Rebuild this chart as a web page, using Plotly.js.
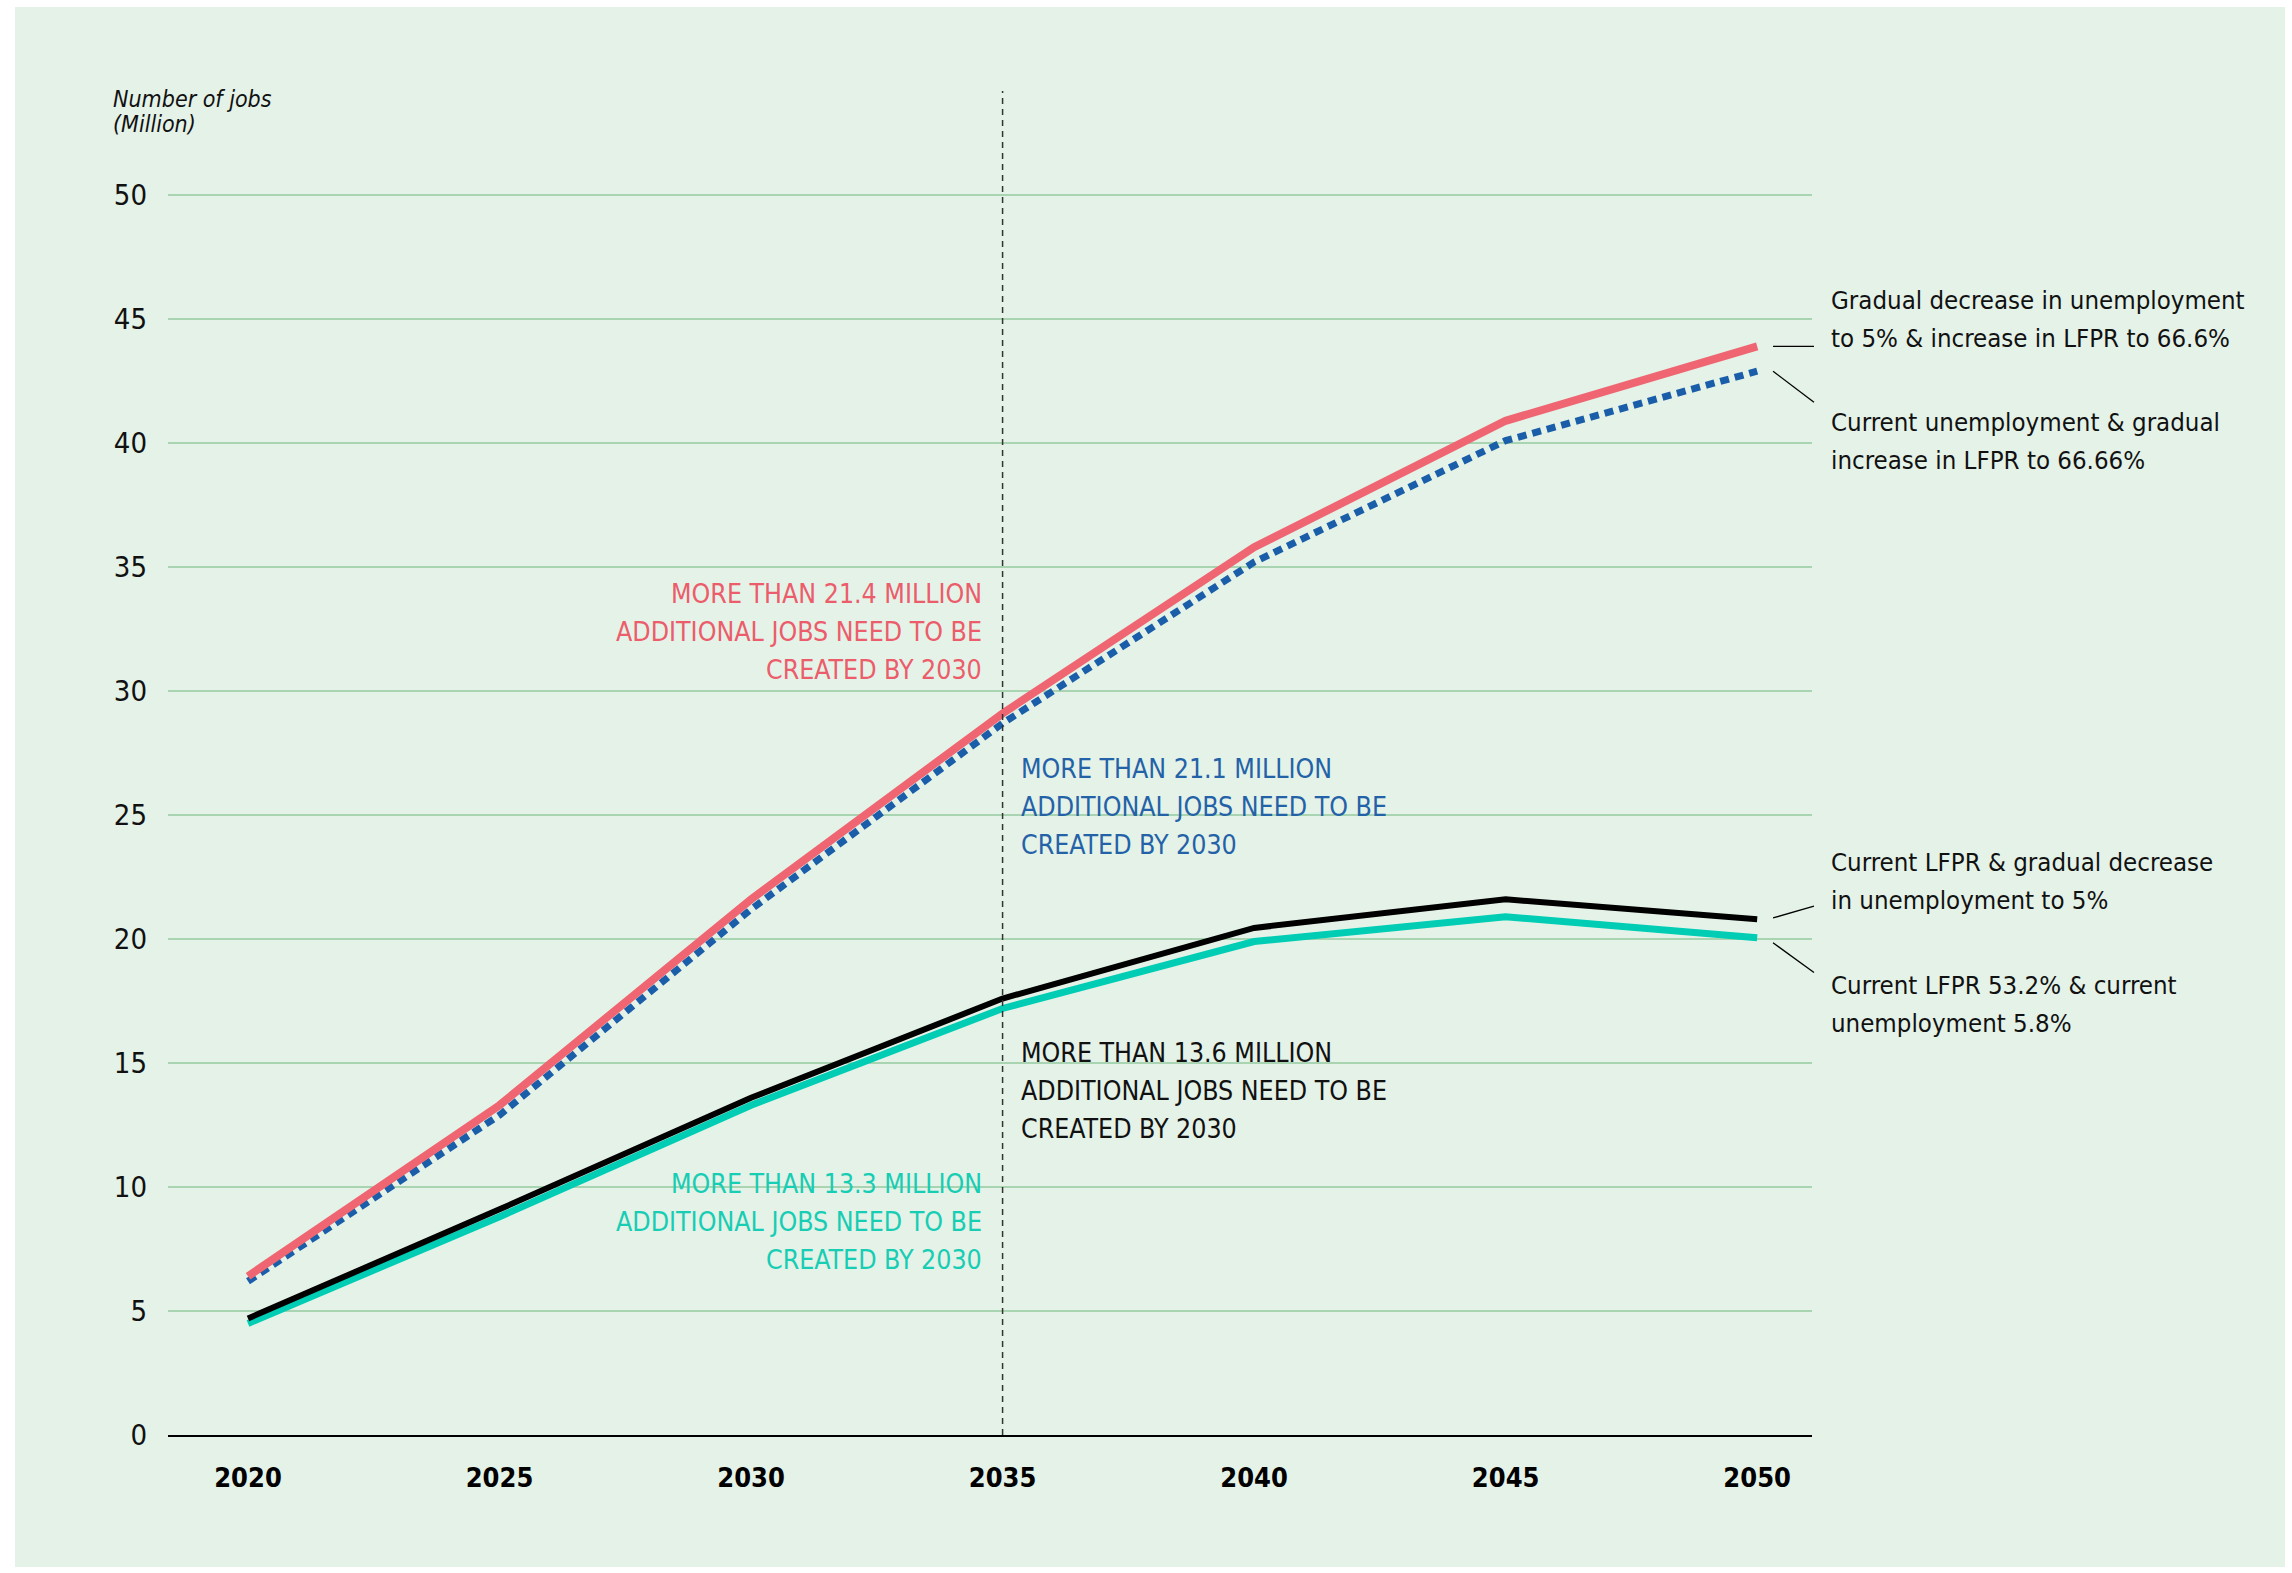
<!DOCTYPE html>
<html>
<head>
<meta charset="utf-8">
<script src="https://cdn.plot.ly/plotly-3.0.1.min.js"></script>
<style>
  html, body { margin: 0; padding: 0; background: #ffffff; width: 2292px; height: 1573px; overflow: hidden; }
  #chart { position: absolute; left: 15px; top: 7px; width: 2270px; height: 1560px; }
</style>
</head>
<body>
<div id="chart"></div>
<script>
// ---- Data ----
const years = [2020, 2025, 2030, 2035, 2040, 2045, 2050];
const gradualUnempLfpr = [6.4, 13.3, 21.6, 29.1, 35.8, 40.9, 43.9];      // red
const currentUnempLfpr = [6.2, 12.9, 21.2, 28.7, 35.2, 40.1, 42.9];      // blue dotted
const currentLfprGradUnemp = [4.7, 9.1, 13.6, 17.6, 20.45, 21.6, 20.8];  // black
const currentLfprCurrUnemp = [4.5, 8.8, 13.3, 17.2, 19.9, 20.9, 20.05];  // teal

const yTicks = [0, 5, 10, 15, 20, 25, 30, 35, 40, 45, 50];
const xTicks = [2020, 2025, 2030, 2035, 2040, 2045, 2050];
const markerYear = 2035;

const seriesNames = [
  ["Gradual decrease in unemployment", "to 5% & increase in LFPR to 66.6%"],
  ["Current unemployment & gradual", "increase in LFPR to 66.66%"],
  ["Current LFPR & gradual decrease", "in unemployment to 5%"],
  ["Current LFPR 53.2% & current", "unemployment 5.8%"]
];
const calloutTexts = [
  ["MORE THAN 21.4 MILLION", "ADDITIONAL JOBS NEED TO BE", "CREATED BY 2030"],
  ["MORE THAN 21.1 MILLION", "ADDITIONAL JOBS NEED TO BE", "CREATED BY 2030"],
  ["MORE THAN 13.6 MILLION", "ADDITIONAL JOBS NEED TO BE", "CREATED BY 2030"],
  ["MORE THAN 13.3 MILLION", "ADDITIONAL JOBS NEED TO BE", "CREATED BY 2030"]
];
const yTitleLines = ["Number of jobs", "(Million)"];

// ---- Style ----
const FONT = "DejaVu Sans Condensed, Liberation Sans Narrow, sans-serif";
const RED = "#ef6672", BLUE = "#1a5ea9", BLACK = "#000000", TEAL = "#00cdb4";
const RED_T = "#ec5d6b", BLUE_T = "#2462a8", TEAL_T = "#17cdb3";
const BG = "#e4f2e8", GRID = "#a9d4b1";

const traces = [
  { x: years, y: currentLfprCurrUnemp, mode: "lines", line: { color: TEAL, width: 7 }, name: "teal" },
  { x: years, y: currentLfprGradUnemp, mode: "lines", line: { color: BLACK, width: 6 }, name: "black" },
  { x: years, y: currentUnempLfpr, mode: "lines", line: { color: BLUE, width: 7, dash: "9px,6px" }, name: "blue" },
  { x: years, y: gradualUnempLfpr, mode: "lines", line: { color: RED, width: 8 }, name: "red" }
];

const last = a => a[a.length - 1];
const LX0 = 0.9763, LX1 = 1.0012;
const shapes = [
  { type: "line", xref: "x", yref: "paper", x0: markerYear, x1: markerYear, y0: 0, y1: 1,
    line: { color: "#333333", width: 1.5, dash: "6px,5px" } },
  { type: "line", xref: "paper", yref: "y", x0: LX0, x1: LX1, y0: last(gradualUnempLfpr), y1: last(gradualUnempLfpr),
    line: { color: "#000", width: 1.3 } },
  { type: "line", xref: "paper", yref: "y", x0: LX0, x1: LX1, y0: last(currentUnempLfpr), y1: last(currentUnempLfpr) - 1.25,
    line: { color: "#000", width: 1.3 } },
  { type: "line", xref: "paper", yref: "y", x0: LX0, x1: LX1, y0: last(currentLfprGradUnemp) + 0.05, y1: last(currentLfprGradUnemp) + 0.53,
    line: { color: "#000", width: 1.3 } },
  { type: "line", xref: "paper", yref: "y", x0: LX0, x1: LX1, y0: last(currentLfprCurrUnemp) - 0.2, y1: last(currentLfprCurrUnemp) - 1.4,
    line: { color: "#000", width: 1.3 } }
];

// build one annotation per text line so the line spacing matches the reference (38 px)
const LINE_GAP = 38;
function block(lines, base, font) {
  const n = lines.length;
  return lines.map((t, i) => Object.assign({}, base, {
    text: t, font: font, showarrow: false, yanchor: "middle",
    yshift: ((n - 1) / 2 - i) * LINE_GAP
  }));
}

const RX = 1.0103;
const rightFont = { family: FONT, size: 25.6, color: "#111111" };
const CS = 26.5;
let annotations = [];
annotations = annotations.concat(
  block(yTitleLines, { xref: "paper", yref: "paper", x: -0.0345, y: 0.9842, xanchor: "left" },
        { family: FONT, size: 23, color: "#111", style: "italic" }).map((a, i) => Object.assign(a, { yshift: i === 0 ? 13 : -12 })),
  block(seriesNames[0], { xref: "paper", yref: "y", x: RX, y: 45.0, xanchor: "left" }, rightFont),
  block(seriesNames[1], { xref: "paper", yref: "y", x: RX, y: 40.1, xanchor: "left" }, rightFont),
  block(seriesNames[2], { xref: "paper", yref: "y", x: RX, y: 22.35, xanchor: "left" }, rightFont),
  block(seriesNames[3], { xref: "paper", yref: "y", x: RX, y: 17.4, xanchor: "left" }, rightFont),
  block(calloutTexts[0], { xref: "x", yref: "y", x: markerYear, xshift: -19, y: 32.4, xanchor: "right" },
        { family: FONT, size: CS, color: RED_T }),
  block(calloutTexts[1], { xref: "x", yref: "y", x: markerYear, xshift: 16, y: 25.35, xanchor: "left" },
        { family: FONT, size: CS, color: BLUE_T }),
  block(calloutTexts[2], { xref: "x", yref: "y", x: markerYear, xshift: 16, y: 13.9, xanchor: "left" },
        { family: FONT, size: CS, color: "#111111" }),
  block(calloutTexts[3], { xref: "x", yref: "y", x: markerYear, xshift: -19, y: 8.6, xanchor: "right" },
        { family: FONT, size: CS, color: TEAL_T })
);

const layout = {
  width: 2270, height: 1560,
  paper_bgcolor: BG, plot_bgcolor: BG,
  margin: { l: 153, r: 473, t: 84, b: 132, pad: 0 },
  showlegend: false,
  font: { family: FONT, color: "#111" },
  xaxis: {
    range: [2018.41, 2051.09],
    tickmode: "array", tickvals: xTicks, ticktext: xTicks.map(String),
    showgrid: false, zeroline: false,
    showline: true, linecolor: "#000", linewidth: 2,
    ticks: "", ticklabelstandoff: 18,
    tickfont: { family: FONT, size: 27, color: "#000", weight: "bold" },
    fixedrange: true
  },
  yaxis: {
    range: [0, 54.2],
    tickmode: "array", tickvals: yTicks, ticktext: yTicks.map(String),
    showgrid: true, gridcolor: GRID, gridwidth: 1.5,
    zeroline: false, showline: false,
    ticks: "", ticklabelstandoff: 20,
    tickfont: { family: FONT, size: 29, color: "#111" },
    fixedrange: true
  },
  shapes: shapes,
  annotations: annotations
};

Plotly.newPlot("chart", traces, layout, { displayModeBar: false, staticPlot: true });
</script>
</body>
</html>
